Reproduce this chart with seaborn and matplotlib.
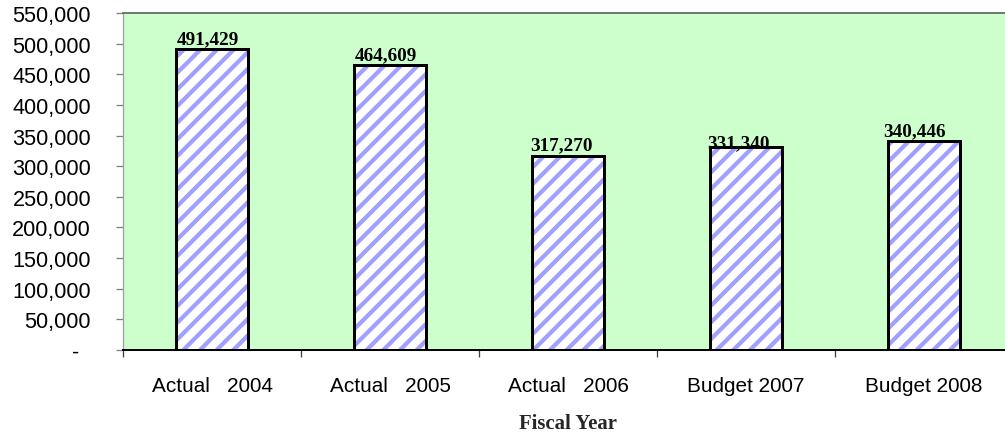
import matplotlib
matplotlib.use("Agg")
import matplotlib.pyplot as plt
from matplotlib.ticker import FixedLocator, FuncFormatter
import seaborn as sns

categories = ["Actual   2004", "Actual   2005", "Actual   2006", "Budget 2007", "Budget 2008"]
values = [491429, 464609, 317270, 331340, 340446]
y_ticks = list(range(0, 550001, 50000))

DPI = 100
PX = 72 / DPI  # points per pixel

# small per-label nudges (pixels) for the value captions
label_dx = [-4, -4, -7, -8, -10]
label_dy = [6, 6, 6, 0, 6]

sns.set_style("white")
plt.rcParams["font.family"] = ["Liberation Sans", "DejaVu Sans"]
plt.rcParams["hatch.linewidth"] = 4.2 * PX

fig = plt.figure(figsize=(1005 / DPI, 435 / DPI), dpi=DPI)
ax = fig.add_axes([123 / 1005, 84 / 435, 890 / 1005, 337 / 435])
ax.set_facecolor("#CCFFCC")

# hatched fill
sns.barplot(x=categories, y=values, color="white", width=0.405,
            errorbar=None, ax=ax, saturation=1)
for p in ax.patches:
    p.set_facecolor("white")
    p.set_edgecolor("#A0A0FF")
    p.set_hatch("//")
    p.set_linewidth(0)

# black outlines on top
sns.barplot(x=categories, y=values, color="black", width=0.405, fill=False,
            errorbar=None, ax=ax, linewidth=3 * PX)

ax.set_xlim(-0.5, 4.5)
ax.set_ylim(0, 550000)
ax.yaxis.set_major_locator(FixedLocator(y_ticks))
ax.yaxis.set_major_formatter(FuncFormatter(lambda v, _: "-  " if v == 0 else f"{int(v):,}"))

ax.set_xticks(range(len(categories)))
ax.set_xticklabels(categories)
ax.set_xticks([i - 0.5 for i in range(len(categories) + 1)], minor=True)
ax.tick_params(axis="x", which="major", length=0, pad=26 * PX, labelsize=20.8 * PX, colors="black")
ax.tick_params(axis="x", which="minor", length=7 * PX, width=1.3 * PX, color="#404040",
               direction="out", bottom=True)
ax.tick_params(axis="y", which="major", length=7 * PX, width=1.3 * PX, color="#808080",
               direction="out", left=True, pad=25 * PX, labelsize=21.7 * PX, labelcolor="black")

for side in ("left", "top", "right", "bottom"):
    ax.spines[side].set_visible(True)
ax.spines["left"].set_color("#A0A0A0")
ax.spines["left"].set_linewidth(1.3 * PX)
ax.spines["top"].set_color("#606060")
ax.spines["top"].set_linewidth(1.7 * PX)
ax.spines["right"].set_color("#606060")
ax.spines["bottom"].set_color("black")
ax.spines["bottom"].set_linewidth(2 * PX)

ax.set_xlabel("Fiscal Year", family=["Liberation Serif", "DejaVu Serif"], fontweight="bold",
              fontsize=20.8 * PX, labelpad=18 * PX)
ax.set_ylabel("")

for i, v in enumerate(values):
    ax.annotate(f"{v:,}", xy=(i, v), xytext=(label_dx[i] * PX, label_dy[i] * PX),
                textcoords="offset points", ha="center", va="baseline",
                fontsize=19.2 * PX, fontweight="bold",
                family=["Liberation Serif", "DejaVu Serif"], color="black")

fig.savefig("out.png", dpi=DPI)
